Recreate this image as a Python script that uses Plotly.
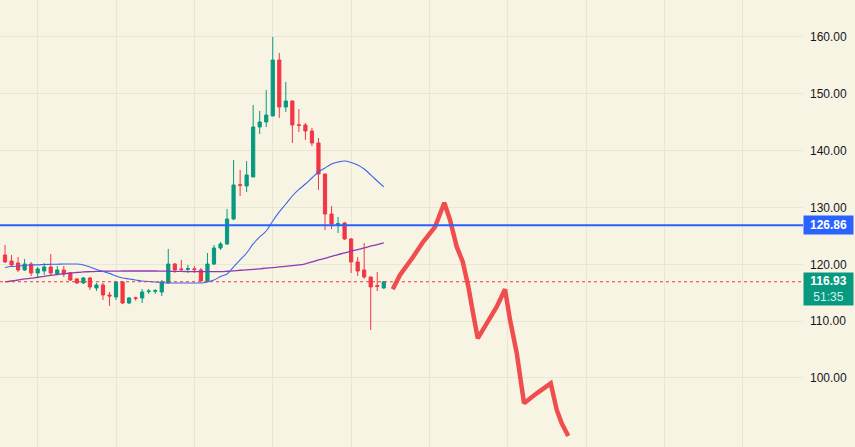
import plotly.graph_objects as go

# ---- candle data (bar index, OHLC) ----
opens = [121.64, 120.58, 120.23, 119.00, 120.05, 118.47, 118.82, 119.53, 118.29, 119.00,
         118.47, 117.42, 116.71, 117.59, 115.83, 116.36, 114.60, 114.25, 116.89, 113.19,
         114.10, 114.07, 115.20, 115.25, 115.13, 116.71, 120.05, 119.18, 119.10, 119.20,
         119.00, 117.06, 120.05, 122.87, 123.58, 127.97, 134.00, 133.78, 135.37, 144.16,
         145.04, 146.10, 155.95, 147.68, 148.74, 144.55, 144.51, 143.46, 141.35, 135.89,
         128.85, 127.05, 127.27, 124.46, 120.41, 119.00, 117.77, 116.25, 115.83]
highs = [123.40, 121.64, 121.29, 120.94, 120.41, 119.53, 120.23, 121.80, 119.70, 119.70,
         118.65, 117.59, 117.77, 117.77, 116.71, 116.71, 115.13, 117.06, 117.00, 114.25,
         114.30, 115.66, 115.66, 115.66, 117.24, 122.70, 120.23, 120.76, 119.88, 119.70,
         119.35, 121.99, 123.40, 123.93, 129.73, 138.36, 136.60, 138.18, 148.03, 146.98,
         150.67, 160.00, 157.18, 152.08, 148.80, 147.33, 144.87, 144.00, 142.23, 135.95,
         130.26, 128.33, 127.45, 124.63, 121.29, 123.75, 117.80, 118.65, 117.06]
lows = [120.23, 119.53, 118.65, 118.82, 117.94, 117.59, 118.12, 118.12, 118.12, 117.77,
        117.06, 116.54, 116.54, 115.48, 115.30, 113.72, 112.67, 113.72, 113.00, 113.00,
        113.60, 113.19, 114.78, 114.78, 114.42, 116.71, 118.47, 118.65, 118.47, 118.47,
        117.06, 116.89, 119.88, 122.52, 123.40, 127.80, 132.02, 132.73, 135.37, 142.93,
        144.16, 146.10, 145.75, 146.80, 141.35, 143.28, 141.88, 140.80, 133.08, 126.04,
        126.21, 125.51, 124.30, 118.47, 117.94, 117.42, 108.44, 115.30, 115.66]
closes = [120.41, 119.88, 119.00, 120.05, 118.47, 119.18, 119.53, 118.47, 119.00, 118.29,
          117.24, 116.71, 117.59, 116.01, 116.36, 114.60, 114.42, 116.89, 113.19, 114.07,
          114.00, 115.13, 115.30, 115.35, 116.89, 120.05, 119.00, 119.10, 119.25, 119.05,
          117.06, 120.05, 122.87, 123.58, 127.97, 133.96, 133.90, 135.72, 144.16, 145.04,
          146.27, 155.95, 147.68, 148.74, 144.51, 144.45, 143.46, 141.35, 135.89, 128.85,
          127.10, 127.15, 124.46, 120.41, 118.82, 117.77, 116.01, 116.10, 116.93]

# ---- moving averages ----
ma_fast = [119.44, 119.60, 119.70, 119.80, 119.88, 119.90, 119.97, 120.00, 120.02, 120.05,
           120.05, 120.05, 119.88, 119.53, 119.10, 118.74, 118.40, 117.94, 117.59, 117.42,
           117.24, 117.06, 116.98, 116.89, 116.80, 116.71, 116.71, 116.71, 116.71, 116.71,
           116.71, 116.89, 117.24, 117.86, 118.30, 119.53, 120.76, 121.99, 123.58, 124.81,
           125.86, 127.62, 129.21, 130.61, 132.02, 133.17, 134.13, 135.19, 136.25, 136.95,
           137.65, 138.00, 138.18, 137.92, 137.48, 136.77, 135.72, 134.66, 133.61]
ma_slow = [116.89, 117.06, 117.24, 117.42, 117.55, 117.72, 117.89, 118.07, 118.20, 118.34,
           118.47, 118.56, 118.65, 118.70, 118.74, 118.78, 118.80, 118.80, 118.82, 118.82,
           118.82, 118.82, 118.82, 118.82, 118.80, 118.78, 118.76, 118.74, 118.72, 118.70,
           118.70, 118.70, 118.70, 118.72, 118.78, 118.86, 118.95, 119.03, 119.12, 119.21,
           119.32, 119.42, 119.53, 119.65, 119.77, 119.88, 120.09, 120.41, 120.76, 121.06,
           121.38, 121.71, 121.99, 122.31, 122.59, 122.87, 123.19, 123.47, 123.75]

# ---- hand-drawn projection (bar index, price) ----
proj_x = [59.37, 60.49, 62.48, 64.01, 65.85, 66.77, 67.27, 68.15, 69.17, 70.09, 70.95, 71.67,
          72.39, 73.77, 75.30, 76.57, 77.34, 78.36, 79.13, 79.48, 81.42, 83.57, 84.49, 85.25, 86.26]
proj_y = [115.60, 118.12, 121.29, 123.93, 126.57, 129.03, 130.84, 127.80, 123.10, 120.46, 116.06,
          111.43, 106.98, 109.62, 112.54, 115.60, 110.20, 104.40, 99.12, 95.54, 97.30, 99.06,
          94.37, 92.02, 89.79]

level_price = 126.86
last_price = 116.93
countdown = "51:35"
y_ticks = [100, 110, 120, 130, 140, 150, 160]
x_grid = list(range(5, 125, 12))

idx = list(range(len(opens)))

BG = "#F8F4E4"
GREEN = "#089981"
RED = "#F23645"
BLUE = "#2962FF"

fig = go.Figure()
fig.add_trace(go.Scatter(x=idx, y=ma_slow, mode="lines", line=dict(color="#8E3AB0", width=1.3, shape="spline"),
                         hoverinfo="skip", showlegend=False))
fig.add_trace(go.Scatter(x=idx, y=ma_fast, mode="lines", line=dict(color="#3E63E8", width=1.1, shape="spline"),
                         hoverinfo="skip", showlegend=False))
fig.add_trace(go.Candlestick(
    x=idx, open=opens, high=highs, low=lows, close=closes,
    increasing=dict(line=dict(color=GREEN, width=1), fillcolor=GREEN),
    decreasing=dict(line=dict(color=RED, width=1), fillcolor=RED),
    whiskerwidth=0, showlegend=False))
fig.add_trace(go.Scatter(x=proj_x, y=proj_y, mode="lines", line=dict(color="#F04E4E", width=4.5),
                         hoverinfo="skip", showlegend=False))

fig.add_hline(y=level_price, line=dict(color=BLUE, width=2))
fig.add_hline(y=last_price, line=dict(color=RED, width=1, dash="dot"))

fig.add_annotation(x=1, xref="paper", y=level_price, yref="y", xanchor="left", yanchor="middle",
                   text="<b>%.2f</b>" % level_price, showarrow=False, bgcolor=BLUE,
                   font=dict(family="Liberation Sans", size=12, color="white"),
                   width=45, height=14, borderpad=2, align="center")
fig.add_annotation(x=1, xref="paper", y=last_price, yref="y", xanchor="left", yanchor="middle",
                   yshift=-7.5,
                   text="<b>%.2f</b><br><span style='color:#d8f0ea'>%s</span>" % (last_price, countdown),
                   showarrow=False, bgcolor=GREEN,
                   font=dict(family="Liberation Sans", size=12, color="white"),
                   width=45, height=28, borderpad=2, align="center")

fig.update_layout(
    width=855, height=447, margin=dict(l=0, r=52, t=0, b=0),
    paper_bgcolor=BG, plot_bgcolor=BG, showlegend=False,
    font=dict(family="Liberation Sans", size=12, color="#131722"),
    xaxis=dict(range=[-0.77, 122.2], rangeslider=dict(visible=False), tickvals=x_grid,
               showticklabels=False, showgrid=True, gridcolor="#EAE6D4", gridwidth=1,
               zeroline=False, showline=False, ticks=""),
    yaxis=dict(side="right", range=[87.85, 166.51], tickvals=y_ticks,
               ticktext=["%.2f" % v for v in y_ticks], showgrid=True, gridcolor="#EAE6D4",
               zeroline=False, showline=False, ticks="", ticklabelstandoff=6,
               tickfont=dict(family="Liberation Sans", size=12, color="#131722")),
)

fig.write_html("out.html", config={"displayModeBar": False},
               post_script="document.body.style.margin='0';document.body.style.overflow='hidden';"
                           "document.body.style.background='%s';" % BG)
